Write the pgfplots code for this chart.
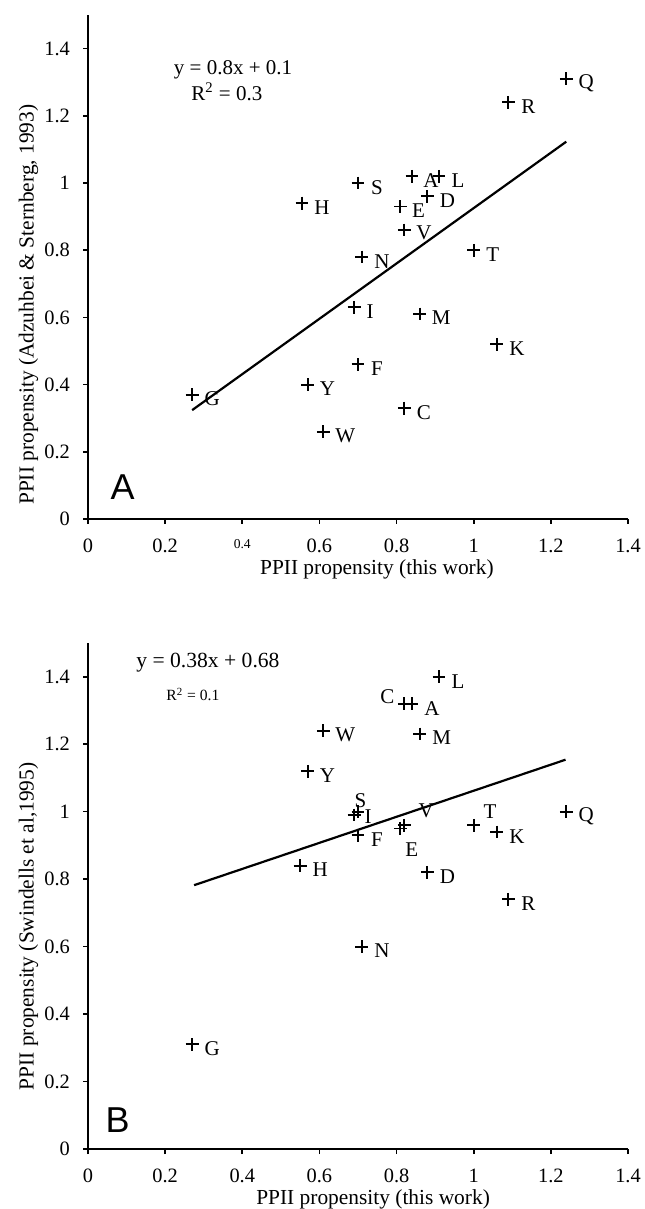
\documentclass[border=0pt]{standalone}
\usepackage{fontspec}
\setmainfont{Liberation Serif}
\newfontfamily\panelfont{Liberation Sans}
\usepackage{pgfplots}
\pgfplotsset{compat=1.18}

\pgfplotsset{
  ppii/.style={
    width=270pt, scale only axis,
    xmin=0, xmax=1.4, ymin=0, ymax=1.5,
    axis x line=bottom, axis y line=left,
    axis line style={-, line width=0.9pt},
    xtick={0,0.2,...,1.4}, ytick={0,0.2,...,1.4},
    tick align=outside, major tick length=2.5pt,
    tick style={black, line width=0.8pt},
    /pgf/number format/assume math mode=true,
    ticklabel style={font=\fontsize{10.2}{12}\selectfont},
    xticklabel style={inner sep=0.5pt, yshift=-7pt},
    yticklabel style={xshift=-3pt},
    label style={font=\fontsize{10.7}{12}\selectfont, inner sep=0pt},
    clip=false,
  },
  pts/.style={
    only marks, mark=+, mark size=3.2pt, black,
    mark options={line width=0.95pt},
    nodes near coords, point meta=explicit symbolic,
    visualization depends on={value \thisrow{dx}\as\dx},
    visualization depends on={value \thisrow{dy}\as\dy},
    every node near coord/.append style={anchor=center, inner sep=0pt,
      xshift=\dx pt, yshift=\dy pt, font=\fontsize{10.5}{12}\selectfont},
  },
}

\begin{document}
\begin{tikzpicture}
\useasboundingbox (0,0) rectangle (322pt,604.5pt);

% panel A
\begin{axis}[ppii, at={(44pt,345pt)}, anchor=south west, height=252pt,
  xticklabels={0,0.2,{\raisebox{2pt}{\fontsize{6.8}{7}\selectfont 0.4}},0.6,0.8,1,1.2,1.4},
  xlabel={PPII propensity (this work)},
  ylabel={PPII propensity (Adzuhbei \& Sternberg, 1993)},
  xlabel style={at={(axis description cs:0.535,-0.099)}, anchor=center},
  ylabel style={at={(axis description cs:-0.11,0.425)}, anchor=center},
]
\addplot[pts] table[x=x, y=y, meta=lab] {
lab x y dx dy
Q 1.24 1.31 10 -2.2
R 1.09 1.24 10 -2.2
A 0.84 1.02 9.5 -2.2
L 0.91 1.02 9.5 -2.2
S 0.70 1.00 9.5 -2.2
D 0.88 0.96 10 -2.2
H 0.555 0.94 10 -2.2
E 0.81 0.93 9.0 -2.0
V 0.82 0.86 9.8 -1.6
T 1.00 0.80 9.5 -2.2
N 0.71 0.78 10 -2.2
I 0.69 0.63 8.0 -2.2
M 0.86 0.61 10.8 -2.0
K 1.06 0.52 10 -2.2
F 0.70 0.46 9.5 -2.2
Y 0.57 0.40 9.8 -2.2
G 0.27 0.37 10 -2.2
C 0.82 0.33 9.8 -2.2
W 0.61 0.26 11 -2.0
};
\addplot[black, line width=1.1pt] coordinates {(0.27,0.324) (1.24,1.123)};
\node[font=\fontsize{10.5}{12}\selectfont] at (axis cs:0.376,1.336) {y = 0.8x + 0.1};
\node[font=\fontsize{10.5}{12}\selectfont] at (axis cs:0.36,1.271) {R\textsuperscript{2} = 0.3};
\node[font=\panelfont\fontsize{18}{20}\selectfont] at (axis cs:0.09,0.095) {A};
\end{axis}

% panel B
\begin{axis}[ppii, at={(44pt,30pt)}, anchor=south west, height=253pt,
  xlabel={PPII propensity (this work)},
  ylabel={PPII propensity (Swindells et al,1995)},
  xlabel style={at={(axis description cs:0.528,-0.099)}, anchor=center},
  ylabel style={at={(axis description cs:-0.11,0.44)}, anchor=center},
]
\addplot[pts] table[x=x, y=y, meta=lab] {
lab x y dx dy
L 0.91 1.40 9.5 -2.2
C 0.82 1.32 -8.5 3.3
A 0.84 1.32 10 -2.2
W 0.61 1.24 11 -2.0
M 0.86 1.23 11 -2.0
Y 0.57 1.12 9.8 -2.2
S 0.70 1.00 1.2 5.5
I 0.69 0.99 7.0 -1.0
E 0.81 0.95 5.7 -10.5
V 0.82 0.96 11.0 7.0
F 0.70 0.93 9.5 -2.2
T 1.00 0.96 8.2 7.0
K 1.06 0.94 10 -2.2
Q 1.24 1.00 10 -2.2
H 0.55 0.84 10 -2.2
D 0.88 0.82 10 -2.2
R 1.09 0.74 10 -2.2
N 0.71 0.60 10 -2.2
G 0.27 0.31 10 -2.2
};
\addplot[black, line width=1.1pt] coordinates {(0.275,0.782) (1.238,1.154)};
\node[font=\fontsize{10.8}{12}\selectfont] at (axis cs:0.311,1.442) {y = 0.38x + 0.68};
\node[font=\fontsize{7.8}{9}\selectfont] at (axis cs:0.272,1.347) {R\textsuperscript{2} = 0.1};
\node[font=\panelfont\fontsize{18}{20}\selectfont] at (axis cs:0.077,0.087) {B};
\end{axis}
\end{tikzpicture}
\end{document}
